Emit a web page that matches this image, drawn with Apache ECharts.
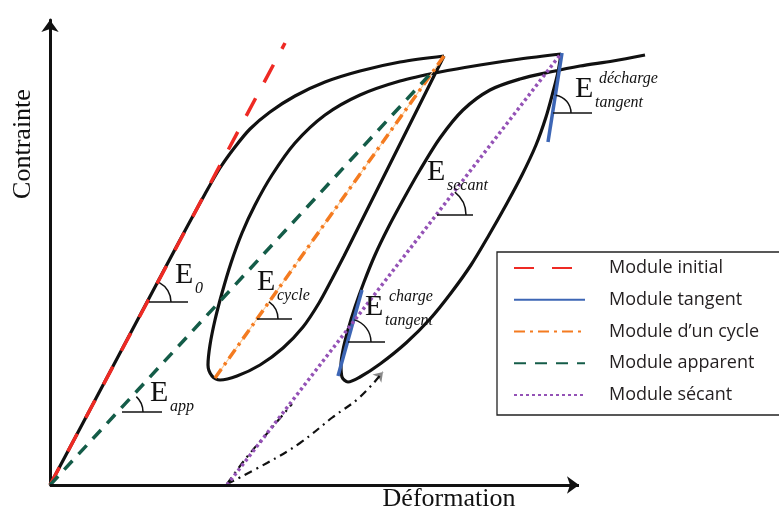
<!DOCTYPE html>
<html>
<head>
<meta charset="utf-8">
<script src="https://cdn.jsdelivr.net/npm/echarts@6/dist/echarts.min.js"></script>
<style>html,body{margin:0;padding:0;background:#fff}#c{width:779px;height:511px}</style>
</head>
<body>
<div id="c"></div>
<script>
// ---- data (Déformation, Contrainte) ----
const xTitle = 'Déformation';
const yTitle = 'Contrainte';
const xMax = 600, yMax = 465;      // plotting range
const xArrowEnd = 529;             // end of the drawn strain axis

const loadingCurve = [[0,0],[70,132],[130,245],[155,291],[170,317],[185,338],[200,356],[220,373],[245,389],[275,403],[310,414],[350,423],[394,429]];
const cycle1 = [[394,429],[381,403],[368,377],[355,351],[342,325],[330,301],[318,277],[306,253],[294,229],[282,206],[269,182],[253,158],[233,137],[210,120],[187,109],[170,105],[162,109],[158,120],[160,140],[165,165],[172,192],[181,222],[192,252],[205,280],[222,310],[245,342],[275,370],[310,390],[350,404],[390,413],[430,420],[470,426],[511,431]];
const cycle2 = [[511,431],[508,413],[503,393],[496,368],[486,340],[472,310],[456,280],[439,250],[421,220],[401,192],[380,166],[356,142],[330,121],[310,108],[298,103],[292,108],[291,120],[293,135],[298,155],[305,178],[314,203],[325,230],[338,257],[353,285],[370,315],[390,347],[413,375],[440,395],[470,406],[500,413],[530,419],[563,424],[595,430]];
const dashLower = [[177,1],[217,22],[250,42],[283,68],[310,88],[333,113]];
const dashUpper = [[177,1],[197,28],[220,55],[242,81]];

const legendNames = ['Module initial','Module tangent','Module d\u2019un cycle','Module apparent','Module sécant'];
const initialLine = [[0,0],[235,442]];
const tangentCharge = [[288,109],[312,195]];
const tangentDecharge = [[498,343],[512,432]];
const cycleLine = [[165,107],[394,429]];
const apparentLine = [[0,0],[383,414]];
const secantLine = [[177,0],[510,430]];

// angle marks: vertex, angle (deg), radius, horizontal length
const markVertex = [[99,183],[72,73],[207,166],[298,143],[387,270],[503,372]];
const markAngle = [62,47,55,74,52,81];
const markRadius = [22,21,21,23,29,18];
const markLength = [39,40,35,37,36,39];

// labels "E" with sub/superscripts
const labelPos = [[125,210],[100,92],[207,203],[315,178],[377,313],[525,396]];
const labelSub = ['0','app','cycle','tangent','secant','tangent'];
const labelSup = ['','','','charge','','décharge'];

const chart = echarts.init(document.getElementById('c'), null, {renderer:'canvas'});
const serif = '"Liberation Serif", "Times New Roman", serif';
const black = '#111';

function blackCurve(data) {
  return {type:'line', data:data, smooth:0.3, symbol:'none', silent:true, z:2,
    lineStyle:{color:black, width:3.2}};
}

chart.setOption({
  animation:false,
  backgroundColor:'#fff',
  grid:{left:50, right:129, top:20, bottom:26},
  xAxis:{type:'value', min:0, max:xMax, axisTick:{show:false}, axisLabel:{show:false}, splitLine:{show:false},
    axisLine:{show:false}},
  yAxis:{type:'value', min:0, max:yMax, axisTick:{show:false}, axisLabel:{show:false}, splitLine:{show:false},
    axisLine:{show:true, onZero:false, lineStyle:{color:black, width:3}, symbol:['none','arrow'], symbolSize:[13,12]}},
  legend:{
    data:legendNames, orient:'vertical', left:497, top:252, padding:[6,300,10,16],
    itemWidth:71, itemHeight:14, itemGap:11.75, selectedMode:false,
    itemStyle:{opacity:0},
    borderColor:'#222', borderWidth:1.3,
    textStyle:{fontFamily:'"Open Sans", "Noto Sans", sans-serif', fontSize:18, color:'#231f20', padding:[0,0,0,19], lineHeight:20}
  },
  graphic:[
    {type:'text', x:23, y:144, rotation:Math.PI/2, silent:true,
      style:{text:yTitle, font:'26px ' + serif, fill:black, textAlign:'center', textVerticalAlign:'middle', align:'center', verticalAlign:'middle'}},
    {type:'text', x:449, y:499, silent:true,
      style:{text:xTitle, font:'26px ' + serif, fill:black, textAlign:'center', textVerticalAlign:'middle', align:'center', verticalAlign:'middle'}}
  ],
  series:[
    Object.assign(blackCurve(loadingCurve), {
      markLine:{silent:true, symbol:['none','arrow'], symbolSize:[13,12], label:{show:false},
        lineStyle:{color:black, width:3, type:'solid'},
        data:[[{coord:[0,0]},{coord:[xArrowEnd,0]}]]}
    }),
    blackCurve(cycle1),
    blackCurve(cycle2),
    {type:'line', data:dashLower, smooth:0.4, symbol:'none', silent:true, z:2,
      lineStyle:{color:black, width:2.2, type:[8,5,2,5]}},
    {type:'line', data:dashUpper, smooth:0.4, symbol:'none', silent:true, z:2,
      lineStyle:{color:black, width:2.2, type:[8,5,2,5]}},
    {type:'lines', coordinateSystem:'cartesian2d', silent:true, z:4,
      data:[{coords:[dashLower[dashLower.length-2], dashLower[dashLower.length-1]]}],
      symbol:['none','arrow'], symbolSize:9, lineStyle:{color:black, width:0}},
    {name:legendNames[0], type:'line', data:initialLine, symbol:'none', silent:true, z:3,
      lineStyle:{color:'#ee2a24', width:3.5, type:[20,18]}, itemStyle:{color:'#ee2a24'}},
    {name:legendNames[1], type:'line', data:tangentCharge, symbol:'none', silent:true, z:3,
      lineStyle:{color:'#3d66b5', width:3.5}, itemStyle:{color:'#3d66b5'}},
    {name:legendNames[1], type:'line', data:tangentDecharge, symbol:'none', silent:true, z:3,
      lineStyle:{color:'#3d66b5', width:3.5}, itemStyle:{color:'#3d66b5'}},
    {type:'line', data:cycleLine, symbol:'none', silent:true, z:3,
      lineStyle:{color:'#fcc894', width:1.2}},
    {name:legendNames[2], type:'line', data:cycleLine, symbol:'none', silent:true, z:3,
      lineStyle:{color:'#f47b20', width:3.5, type:[11,5,3,5]}, itemStyle:{color:'#f47b20'}},
    {name:legendNames[3], type:'line', data:apparentLine, symbol:'none', silent:true, z:3,
      lineStyle:{color:'#145c48', width:3.5, type:[12,9]}, itemStyle:{color:'#145c48'}},
    {name:legendNames[4], type:'line', data:secantLine, symbol:'none', silent:true, z:3,
      lineStyle:{color:'#9452b6', width:3.5, type:[3,3]}, itemStyle:{color:'#9452b6'}},
    {type:'custom', data:markVertex, silent:true, z:5,
      renderItem:function(params, api){
        const i = params.dataIndex;
        const p = api.coord([api.value(0), api.value(1)]);
        const a = markAngle[i] * Math.PI / 180;
        return {type:'group', children:[
          {type:'line', shape:{x1:p[0], y1:p[1], x2:p[0]+markLength[i], y2:p[1]}, style:{stroke:black, lineWidth:1.5}},
          {type:'arc', shape:{cx:p[0], cy:p[1], r:markRadius[i], startAngle:-a, endAngle:0, clockwise:true}, style:{stroke:black, fill:null, lineWidth:1.5}}
        ]};
      }},
    {type:'custom', data:labelPos, silent:true, z:5,
      renderItem:function(params, api){
        const i = params.dataIndex;
        const p = api.coord([api.value(0), api.value(1)]);
        const kids = [{type:'text', x:p[0], y:p[1], style:{text:'E', font:'30px ' + serif, fill:black, textAlign:'left', textVerticalAlign:'middle', align:'left', verticalAlign:'middle'}}];
        if (labelSub[i]) kids.push({type:'text', x:p[0]+20, y:p[1]+14, style:{text:labelSub[i], font:'italic 16px ' + serif, fill:black, textAlign:'left', textVerticalAlign:'middle', align:'left', verticalAlign:'middle'}});
        if (labelSup[i]) kids.push({type:'text', x:p[0]+24, y:p[1]-10, style:{text:labelSup[i], font:'italic 16px ' + serif, fill:black, textAlign:'left', textVerticalAlign:'middle', align:'left', verticalAlign:'middle'}});
        return {type:'group', children:kids};
      }}
  ]
});
</script>
</body>
</html>
